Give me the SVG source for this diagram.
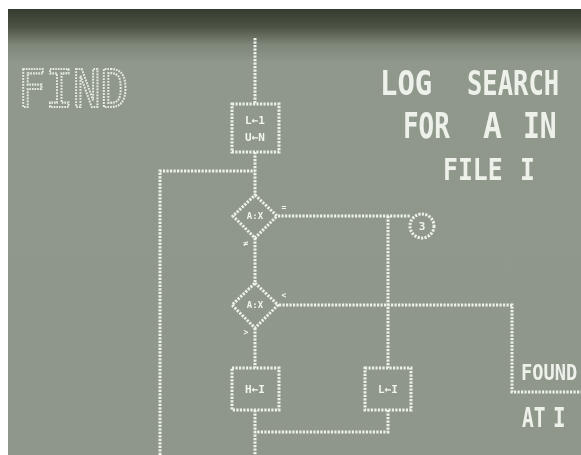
<svg xmlns="http://www.w3.org/2000/svg" width="581" height="455" viewBox="0 0 581 455">
<defs>
<linearGradient id="bg" x1="0" y1="0" x2="0" y2="1" gradientUnits="objectBoundingBox">
<stop offset="0" stop-color="#353b2f"/>
<stop offset="0.04" stop-color="#4c5345"/>
<stop offset="0.08" stop-color="#7e8679"/>
<stop offset="0.12" stop-color="#8f988b"/>
<stop offset="1" stop-color="#8e978a"/>
</linearGradient>
<filter id="glow" x="-10%" y="-10%" width="120%" height="120%">
<feGaussianBlur stdDeviation="0.6"/>
</filter>
</defs>
<style>
.ln{fill:none;stroke:#eef1ea;stroke-width:3;stroke-dasharray:2.2 1.3}
.nd{fill:none;stroke:#eef1ea;stroke-width:3;stroke-dasharray:2.2 1.3}
.big{font-family:"DejaVu Sans Mono","Liberation Mono",monospace;fill:#eef1ea;font-weight:bold}
.fnd{font-family:"DejaVu Sans Mono","Liberation Mono",monospace;fill:none;stroke:#e6eae2;stroke-width:2.2;stroke-dasharray:1.8 1.2}
.sm{font-family:"DejaVu Sans Mono","Liberation Mono",monospace;fill:#f2f4ee;font-weight:bold;text-anchor:middle}
</style>
<rect x="0" y="0" width="581" height="455" fill="#ffffff"/>
<rect x="8" y="9" width="573" height="446" fill="url(#bg)"/>
<g filter="url(#glow)">
<g id="title">
<text class="fnd" transform="translate(18,107) scale(0.88,1)" font-size="52">FIND</text>
<text class="big" transform="translate(380,95) scale(0.85,1)" font-size="34">LOG</text>
<text class="big" transform="translate(467,95) scale(0.75,1)" font-size="34">SEARCH</text>
<text class="big" transform="translate(403,138) scale(0.74,1)" font-size="35">FOR</text>
<text class="big" transform="translate(483,138) scale(0.9,1)" font-size="35">A</text>
<text class="big" transform="translate(523,138) scale(0.8,1)" font-size="35">IN</text>
<text class="big" transform="translate(443,180) scale(0.8,1)" font-size="31">FILE</text>
<text class="big" transform="translate(520,180) scale(0.8,1)" font-size="31">I</text>
</g>
<g id="connectors">
<path class="ln" d="M255 38 V104"/>
<path class="ln" d="M255 152 V195"/>
<path class="ln" d="M160 455 V171 H255"/>
<path class="ln" d="M278 216 H411"/>
<path class="ln" d="M388 216 V368"/>
<path class="ln" d="M255 238 V283"/>
<path class="ln" d="M279 305 H512 V392 H581"/>
<path class="ln" d="M255 328 V368"/>
<path class="ln" d="M255 410 V455"/>
<path class="ln" d="M388 410 V432 H255"/>
</g>
<g id="init">
<rect class="nd" x="232" y="104" width="47" height="48"/>
<text class="sm" x="255" y="124" font-size="11">L←1</text>
<text class="sm" x="255" y="141" font-size="11">U←N</text>
</g>
<g id="test1">
<path class="nd" d="M255 195 L277 216 L255 238 L233 216 Z"/>
<text class="sm" x="255" y="219" font-size="9">A:X</text>
<text class="sm" x="284" y="210" font-size="8">=</text>
<text class="sm" x="246" y="246" font-size="8">≠</text>
</g>
<g id="test2">
<path class="nd" d="M255 283 L278 305 L255 328 L232 305 Z"/>
<text class="sm" x="255" y="308" font-size="9">A:X</text>
<text class="sm" x="284" y="298" font-size="8">&lt;</text>
<text class="sm" x="246" y="335" font-size="8">&gt;</text>
</g>
<g id="exit">
<circle class="nd" cx="422" cy="226" r="12"/>
<text class="sm" x="422" y="230" font-size="11">3</text>
</g>
<g id="setH">
<rect class="nd" x="232" y="368" width="47" height="42"/>
<text class="sm" x="255" y="393" font-size="11">H←I</text>
</g>
<g id="setL">
<rect class="nd" x="365" y="368" width="46" height="42"/>
<text class="sm" x="388" y="393" font-size="11">L←I</text>
</g>
<g id="found">
<text class="big" transform="translate(521,380) scale(0.85,1)" font-size="22">FOUND</text>
<text class="big" transform="translate(522,427) scale(0.75,1)" font-size="26">AT</text>
<text class="big" transform="translate(553,427) scale(0.8,1)" font-size="26">I</text>
</g>
</g>
</svg>
